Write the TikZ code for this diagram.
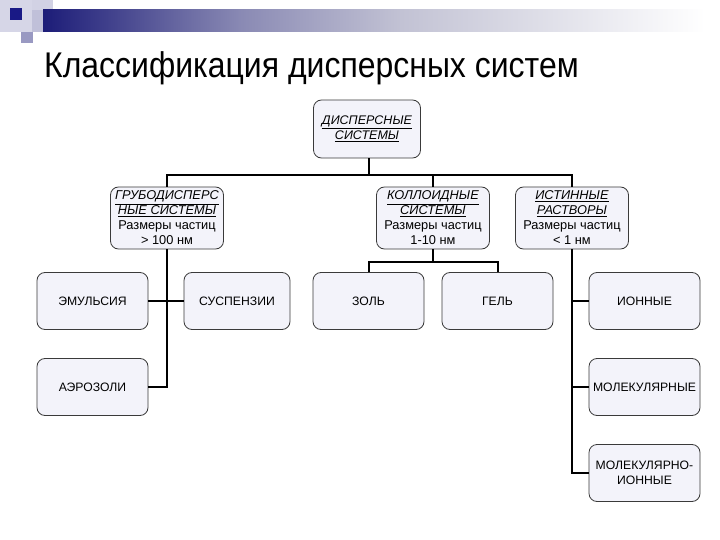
\documentclass[tikz,border=0pt]{standalone}
\usepackage{fontspec}
\setmainfont{Liberation Sans}
\usepackage{tikz}

\definecolor{hdA}{HTML}{1C1C78}
\definecolor{hdB}{HTML}{8A8AB4}
\definecolor{hdC}{HTML}{C2C2D4}
\definecolor{boxfill}{HTML}{F3F3FA}
\definecolor{boxline}{HTML}{3A3A3A}
\pgfdeclarehorizontalshading{hdr}{100bp}{color(0bp)=(hdA); color(25bp)=(hdA);
  color(40bp)=(hdB); color(52bp)=(hdC); color(75bp)=(white); color(100bp)=(white)}

\newcommand{\hd}[1]{\underline{\textit{#1}}}

\begin{document}
\begin{tikzpicture}[x=1pt,y=-1pt,
  box/.style={draw=boxline,line width=.8pt,fill=boxfill,rounded corners=8pt,
    align=center,inner sep=1pt,font=\fontsize{12.2}{15}\selectfont,
    minimum width=111pt,minimum height=57pt},
  mid/.style={box,font=\fontsize{12.8}{15}\selectfont,minimum width=113pt,minimum height=62pt},
  link/.style={line width=2pt}]
\useasboundingbox (0,0) rectangle (720,540);
% header
\fill[white] (0,0) rectangle (720,540);
\fill[hdA!18] (0,0) rectangle (32,32);
\fill[hdA!20] (32,0) rectangle (53,10);
\fill[hdA!28] (32,10) rectangle (43,32);
\shade[shading=hdr] (43,10) rectangle (705,32);
\fill[hdA!90!blue] (10,8) rectangle (22,20);
\fill[hdA!45] (21,32) rectangle (33,43);
\node[anchor=west,inner sep=0pt,font=\fontsize{34}{40}\selectfont] (title) at (44,68)
  {\scalebox{0.94}[1.05]{Классификация дисперсных систем}};
% boxes
\node[box,font=\fontsize{12.5}{15}\selectfont,minimum width=107pt,minimum height=58pt] (top) at (367,129)
  {\hd{ДИСПЕРСНЫЕ}\\\hd{СИСТЕМЫ}};
\node[mid] (grub) at (167,218) {\hd{ГРУБОДИСПЕРС}\\\hd{НЫЕ СИСТЕМЫ}\\Размеры частиц\\> 100 нм};
\node[mid] (koll) at (433,218) {\hd{КОЛЛОИДНЫЕ}\\\hd{СИСТЕМЫ}\\Размеры частиц\\1-10 нм};
\node[mid] (ist) at (572,218) {\hd{ИСТИННЫЕ}\\\hd{РАСТВОРЫ}\\Размеры частиц\\< 1 нм};
\node[box] (emul) at (92.5,301) {ЭМУЛЬСИЯ};
\node[box,minimum width=106pt] (susp) at (237,301) {СУСПЕНЗИИ};
\node[box] (aero) at (92.5,387) {АЭРОЗОЛИ};
\node[box] (zol) at (368.5,301) {ЗОЛЬ};
\node[box] (gel) at (497.5,301) {ГЕЛЬ};
\node[box] (ion) at (644.5,301) {ИОННЫЕ};
\node[box] (mol) at (644.5,387) {МОЛЕКУЛЯРНЫЕ};
\node[box] (molion) at (644.5,473) {МОЛЕКУЛЯРНО-\\ИОННЫЕ};
% connectors
\coordinate (bus) at (369,175);
\coordinate (kbus) at (433,262);
\draw[link] (top.south -| bus) -- (bus);
\draw[link] (grub.north) |- (bus) -| (ist.north);
\draw[link] (koll.north) -- (koll.north |- bus);
\draw[link] (koll.south) -- (kbus);
\draw[link] (zol.north) |- (kbus) -| (gel.north);
\draw[link] (emul.east) -- (susp.west);
\foreach \from in {emul,aero}
\draw[link] (\from.east) -| (grub.south);
\foreach \to in {ion,mol,molion}
\draw[link] (\to.west) -| (ist.south);
\end{tikzpicture}
\end{document}
